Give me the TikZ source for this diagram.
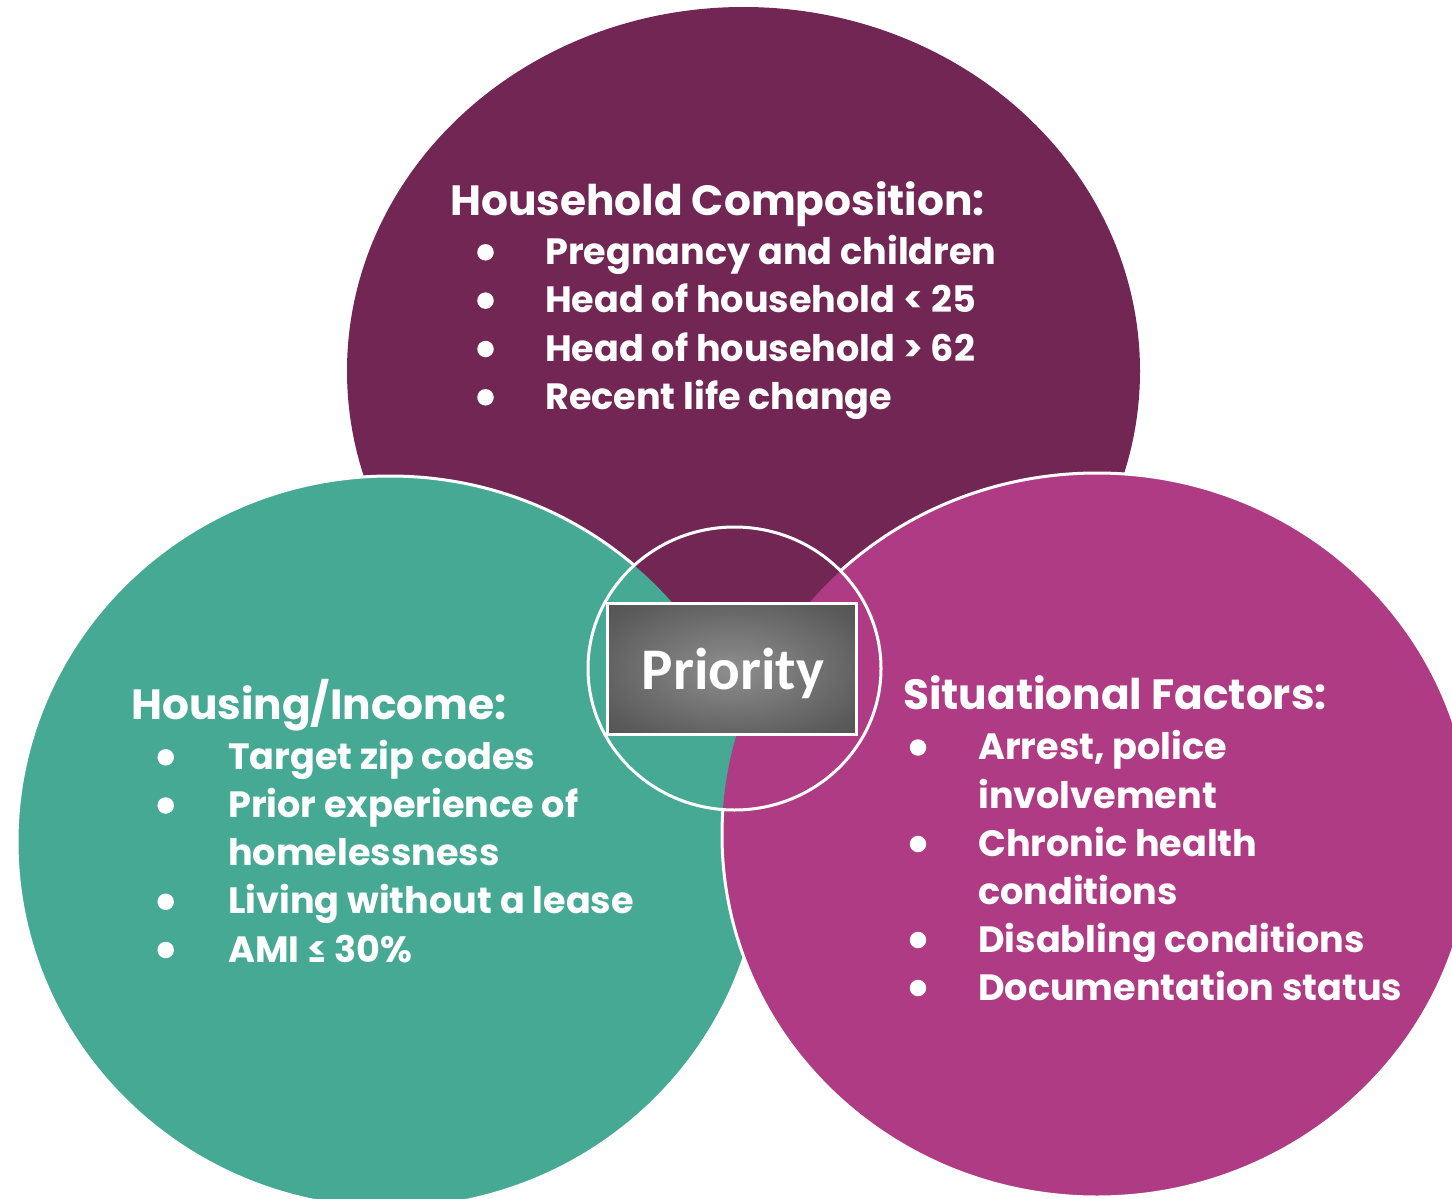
\documentclass[tikz,border=0pt]{standalone}
\usepackage{fontspec}
\setmainfont{Poppins}
\newfontfamily\priofont{Carlito}
\definecolor{purp}{HTML}{722654}
\definecolor{tealc}{HTML}{45A994}
\definecolor{magc}{HTML}{AE3B84}
\definecolor{boxin}{HTML}{8E8E8E}
\definecolor{boxmid}{HTML}{5A5A5A}
\definecolor{boxout}{HTML}{3A3A3A}
\pgfdeclareradialshading{boxshade}{\pgfpoint{0bp}{0bp}}{color(0bp)=(boxin); color(30bp)=(boxmid); color(60bp)=(boxout); color(75bp)=(boxout)}
\newcommand\topEll{(743.5,371) ellipse [x radius=396.5pt, y radius=364pt]}
\newcommand\leftEll{(390,842) ellipse [x radius=373pt, y radius=366pt]}
\newcommand\rightEll{(1097,835) ellipse [x radius=375pt, y radius=362pt]}
\newcommand\midEll{(734.5,668.5) ellipse [x radius=146.5pt, y radius=141.5pt]}
\tikzset{
  head/.style={anchor=base west, inner sep=0pt, text=white, font=\bfseries\fontsize{42.3}{48}\selectfont},
  item/.style={anchor=base west, inner sep=0pt, text=white, font=\bfseries\fontsize{36.6}{48.3}\selectfont},
  bul/.style={circle, fill=white, inner sep=0pt, minimum size=16.5pt},
  outl/.style={draw=white, line width=3pt}
}
\begin{document}
\begin{tikzpicture}[x=1pt,y=-1pt]
\useasboundingbox (0,0) rectangle (1452,1199);
% big circles
\fill[purp] \topEll;
\filldraw[fill=tealc, outl] \leftEll;
\filldraw[fill=magc, outl] \rightEll;
% centre circle redrawn without outlines
\begin{scope}
  \clip \midEll;
  \fill[purp] \topEll;
  \fill[tealc] \leftEll;
  \fill[magc] \rightEll;
\end{scope}
\draw[outl] \midEll;
% priority box
\node[draw=white, line width=3pt, shading=boxshade,
      minimum width=249pt, minimum height=131pt, inner sep=0pt] (box) at (732,669) {};
\node[anchor=base, inner sep=0pt, text=white, font=\priofont\bfseries\fontsize{59}{64}\selectfont] (prio) at (733,689) {Priority};
% top group
\node[head] (h1) at (450,215) {Household Composition:};
\node[item] (t1) at (545,264.3) {Pregnancy and children};
\node[item] (t2) at (545,312.6) {Head of household < 25};
\node[item] (t3) at (545,361) {Head of household > 62};
\node[item] (t4) at (545,409.3) {Recent life change};
\node[bul] (tb1) at (485.5,252.3) {};
\node[bul] (tb2) at (485.5,300.6) {};
\node[bul] (tb3) at (485.5,349) {};
\node[bul] (tb4) at (485.5,397.3) {};
% left group
\node[head] (h2) at (131,719) {Housing/Income:};
\node[item] (l1) at (228,769.3) {Target zip codes};
\node[item] (l2) at (228,817.5) {Prior experience of};
\node[item] (l2b) at (228,865.5) {homelessness};
\node[item] (l3) at (228,913.8) {Living without a lease};
\node[item] (l4) at (228,962) {AMI ≤ 30\%};
\node[bul] (lb1) at (165.7,757.3) {};
\node[bul] (lb2) at (165.7,805.5) {};
\node[bul] (lb3) at (165.7,901.8) {};
\node[bul] (lb4) at (165.7,950) {};
% right group
\node[head] (h3) at (903,709) {Situational Factors:};
\node[item] (r1) at (978,759.5) {Arrest, police};
\node[item] (r1b) at (978,808) {involvement};
\node[item] (r2) at (978,856) {Chronic health};
\node[item] (r2b) at (978,904) {conditions};
\node[item] (r3) at (978,952) {Disabling conditions};
\node[item] (r4) at (978,1000) {Documentation status};
\node[bul] (rb1) at (918,747.5) {};
\node[bul] (rb2) at (918,844) {};
\node[bul] (rb3) at (918,940) {};
\node[bul] (rb4) at (918,988) {};
\end{tikzpicture}
\end{document}
